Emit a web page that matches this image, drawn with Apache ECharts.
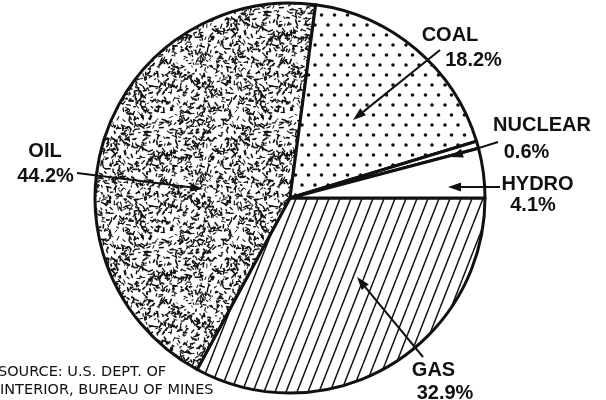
<!DOCTYPE html>
<html><head><meta charset="utf-8">
<script src="https://cdn.jsdelivr.net/npm/echarts@6/dist/echarts.min.js"></script>
<style>html,body{margin:0;padding:0;background:#fff}#c{width:606px;height:400px}</style>
</head><body><div id="c"></div>
<script>
// ---- data ----
const categories = ['GAS', 'OIL', 'COAL', 'NUCLEAR', 'HYDRO'];
const shares = [32.9, 44.2, 18.2, 0.6, 4.1];
const sourceLines = ['SOURCE: U.S. DEPT. OF', 'INTERIOR, BUREAU OF MINES'];

// ---- patterns (styling only) ----
function seeded(s) { return function () { s = (s * 1103515245 + 12345) & 0x7fffffff; return s / 0x7fffffff; }; }
function dotsPattern() {
  const c = document.createElement('canvas'); c.width = 13; c.height = 20;
  const g = c.getContext('2d'); g.fillStyle = '#fff'; g.fillRect(0, 0, 13, 20);
  g.fillStyle = '#111';
  [[3, 5], [9.5, 15]].forEach(p => { g.beginPath(); g.arc(p[0], p[1], 1.8, 0, Math.PI * 2); g.fill(); });
  return c;
}
function stripePattern() {
  const w = 11, h = 28;
  const c = document.createElement('canvas'); c.width = w; c.height = h;
  const g = c.getContext('2d'); g.fillStyle = '#fff'; g.fillRect(0, 0, w, h);
  g.strokeStyle = '#111'; g.lineWidth = 1.5;
  for (let k = -1; k <= 1; k++) { g.beginPath(); g.moveTo(k * w, h); g.lineTo(k * w + w, 0); g.stroke(); }
  return c;
}
function specklePattern() {
  const s = 120;
  const c = document.createElement('canvas'); c.width = s; c.height = s;
  const g = c.getContext('2d'); g.fillStyle = '#fff'; g.fillRect(0, 0, s, s);
  const rnd = seeded(7);
  g.strokeStyle = '#111'; g.lineCap = 'round';
  for (let i = 0; i < 1050; i++) {
    const x = rnd() * s, y = rnd() * s, a = rnd() * Math.PI * 2, l = 1 + rnd() * 3.5;
    g.lineWidth = 0.9 + rnd() * 0.9;
    for (let dx = -s; dx <= s; dx += s) for (let dy = -s; dy <= s; dy += s) {
      g.beginPath(); g.moveTo(x + dx, y + dy); g.lineTo(x + dx + Math.cos(a) * l, y + dy + Math.sin(a) * l); g.stroke();
    }
  }
  return c;
}
const fills = {
  GAS: { image: stripePattern(), repeat: 'repeat' },
  OIL: { image: specklePattern(), repeat: 'repeat' },
  COAL: { image: dotsPattern(), repeat: 'repeat' },
  NUCLEAR: '#fff',
  HYDRO: '#fff'
};

// ---- annotation layout ----
const notes = {
  COAL:    { name: [450, 35],    value: [473.5, 60],  arrow: [[440, 50], [353, 120]] },
  NUCLEAR: { name: [542, 125.5], value: [526.5, 152.5], arrow: [[498, 142], [450, 157]] },
  HYDRO:   { name: [537.5, 184.5], value: [533, 205], arrow: [[500, 187], [448, 187]] },
  OIL:     { name: [45, 151.5],  value: [45.5, 176.5], arrow: [[77, 173], [203, 189]] },
  GAS:     { name: [433.5, 370], value: [445, 393.5], arrow: [[423, 357], [357, 277]] }
};

const graphics = [];
function txt(t, x, y, font) {
  graphics.push({ type: 'text', silent: true, z: 10, style: { text: t, x: x, y: y, font: font, fill: '#111',
    align: 'center', verticalAlign: 'middle', textAlign: 'center', textVerticalAlign: 'middle' } });
}
function arrow(p, q) {
  const dx = q[0] - p[0], dy = q[1] - p[1], L = Math.hypot(dx, dy), ux = dx / L, uy = dy / L;
  const hl = 13, hw = 4.5;
  const bx = q[0] - ux * hl, by = q[1] - uy * hl;
  graphics.push({ type: 'line', silent: true, z: 10, shape: { x1: p[0], y1: p[1], x2: bx, y2: by }, style: { stroke: '#111', lineWidth: 2 } });
  graphics.push({ type: 'polygon', silent: true, z: 10, shape: { points: [[q[0], q[1]], [bx - uy * hw, by + ux * hw], [bx + uy * hw, by - ux * hw]] }, style: { fill: '#111' } });
}
categories.forEach((c, i) => {
  const n = notes[c];
  txt(c, n.name[0], n.name[1], 'bold 20px Arial, "Liberation Sans", sans-serif');
  txt(shares[i].toFixed(1) + '%', n.value[0], n.value[1], 'bold 20px Arial, "Liberation Sans", sans-serif');
  arrow(n.arrow[0], n.arrow[1]);
});
sourceLines.forEach((t, i) => {
  graphics.push({ type: 'text', silent: true, z: 10, style: { text: t, x: i === 0 ? -2 : 0, y: 372 + i * 18,
    font: '14.5px "DejaVu Sans", sans-serif', fill: '#111', align: 'left', verticalAlign: 'middle',
    textAlign: 'left', textVerticalAlign: 'middle' } });
});

const chart = echarts.init(document.getElementById('c'), null, { renderer: 'canvas' });
chart.setOption({
  animation: false,
  backgroundColor: '#fff',
  series: [{
    type: 'pie',
    center: [290, 198],
    radius: 195,
    startAngle: 0,
    clockwise: true,
    silent: true,
    label: { show: false },
    labelLine: { show: false },
    itemStyle: { borderColor: '#111', borderWidth: 3 },
    data: categories.map((c, i) => ({ name: c, value: shares[i], itemStyle: { color: fills[c] } }))
  }],
  graphic: graphics
});
</script></body></html>
